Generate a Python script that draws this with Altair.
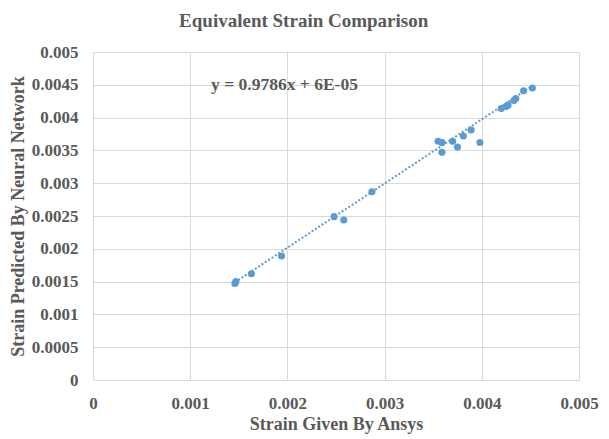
import altair as alt
import pandas as pd

# Data
x_vals = [0.00146, 0.00147, 0.00163, 0.00194, 0.00248, 0.00258, 0.00287,
          0.00355, 0.00359, 0.00359, 0.00370, 0.00375, 0.00381, 0.00389,
          0.00398, 0.00420, 0.00425, 0.00427, 0.00433, 0.00435, 0.00443, 0.00452]
y_vals = [0.00147, 0.00150, 0.00162, 0.00189, 0.00249, 0.00244, 0.00287,
          0.00364, 0.00362, 0.00347, 0.00364, 0.00355, 0.00372, 0.00381,
          0.00362, 0.00414, 0.00417, 0.00419, 0.00426, 0.00429, 0.00441, 0.00445]

slope = 0.9786
intercept = 6e-05
eq_label = ["y = 0.9786x + 6E-05"]
eq_pos_x = [0.00197]
eq_pos_y = [0.00450]

x_ticks = [0, 0.001, 0.002, 0.003, 0.004, 0.005]
y_ticks = [0, 0.0005, 0.001, 0.0015, 0.002, 0.0025, 0.003, 0.0035, 0.004, 0.0045, 0.005]

pts = pd.DataFrame({"x": x_vals, "y": y_vals})
xmin, xmax = min(x_vals), max(x_vals)
trend = pd.DataFrame({"x": [xmin, xmax],
                      "y": [slope * xmin + intercept, slope * xmax + intercept]})
eq = pd.DataFrame({"x": eq_pos_x, "y": eq_pos_y, "t": eq_label})

FONT = "Liberation Serif"
GRAY = "#595959"
BLUE = "#5B9BD5"

xs = alt.Scale(domain=[0, 0.005], nice=False, zero=True)
ys = alt.Scale(domain=[0, 0.005], nice=False, zero=True)

xaxis = alt.Axis(title="Strain Given By Ansys", values=x_ticks, format="~g",
                 labelPadding=15, titlePadding=4)
yaxis = alt.Axis(title="Strain Predicted By Neural Network", values=y_ticks, format="~g",
                 labelPadding=15, titlePadding=4)

X = alt.X("x:Q", scale=xs, axis=xaxis)
Y = alt.Y("y:Q", scale=ys, axis=yaxis)

points = alt.Chart(pts).mark_circle(size=50, color=BLUE, opacity=1).encode(x=X, y=Y)

line = alt.Chart(trend).mark_line(color=BLUE, strokeWidth=2, strokeDash=[2, 2]).encode(x=X, y=Y)

text = alt.Chart(eq).mark_text(font=FONT, fontWeight="bold", fontSize=17.5, color=GRAY,
                               align="center", baseline="middle").encode(
    x=X, y=Y, text="t:N",
)

chart = alt.layer(points, line, text).properties(
    width=486, height=328,
    title=alt.TitleParams("Equivalent Strain Comparison", font=FONT, fontWeight="bold",
                          fontSize=19, color=GRAY, anchor="middle", frame="bounds", offset=12),
    autosize=alt.AutoSizeParams(type="none"),
    padding={"left": 85, "top": 44, "right": 20, "bottom": 58},
).configure_view(stroke=None).configure_axis(
    labelFont=FONT, labelFontWeight="bold", labelFontSize=17, labelColor=GRAY,
    titleFont=FONT, titleFontWeight="bold", titleFontSize=18, titleColor=GRAY,
    domain=False, ticks=False, grid=True, gridColor="#d9d9d9",
    labelOverlap=False, labelFlush=False,
)

chart.save("out.html", embed_options={"renderer": "svg", "actions": False})
